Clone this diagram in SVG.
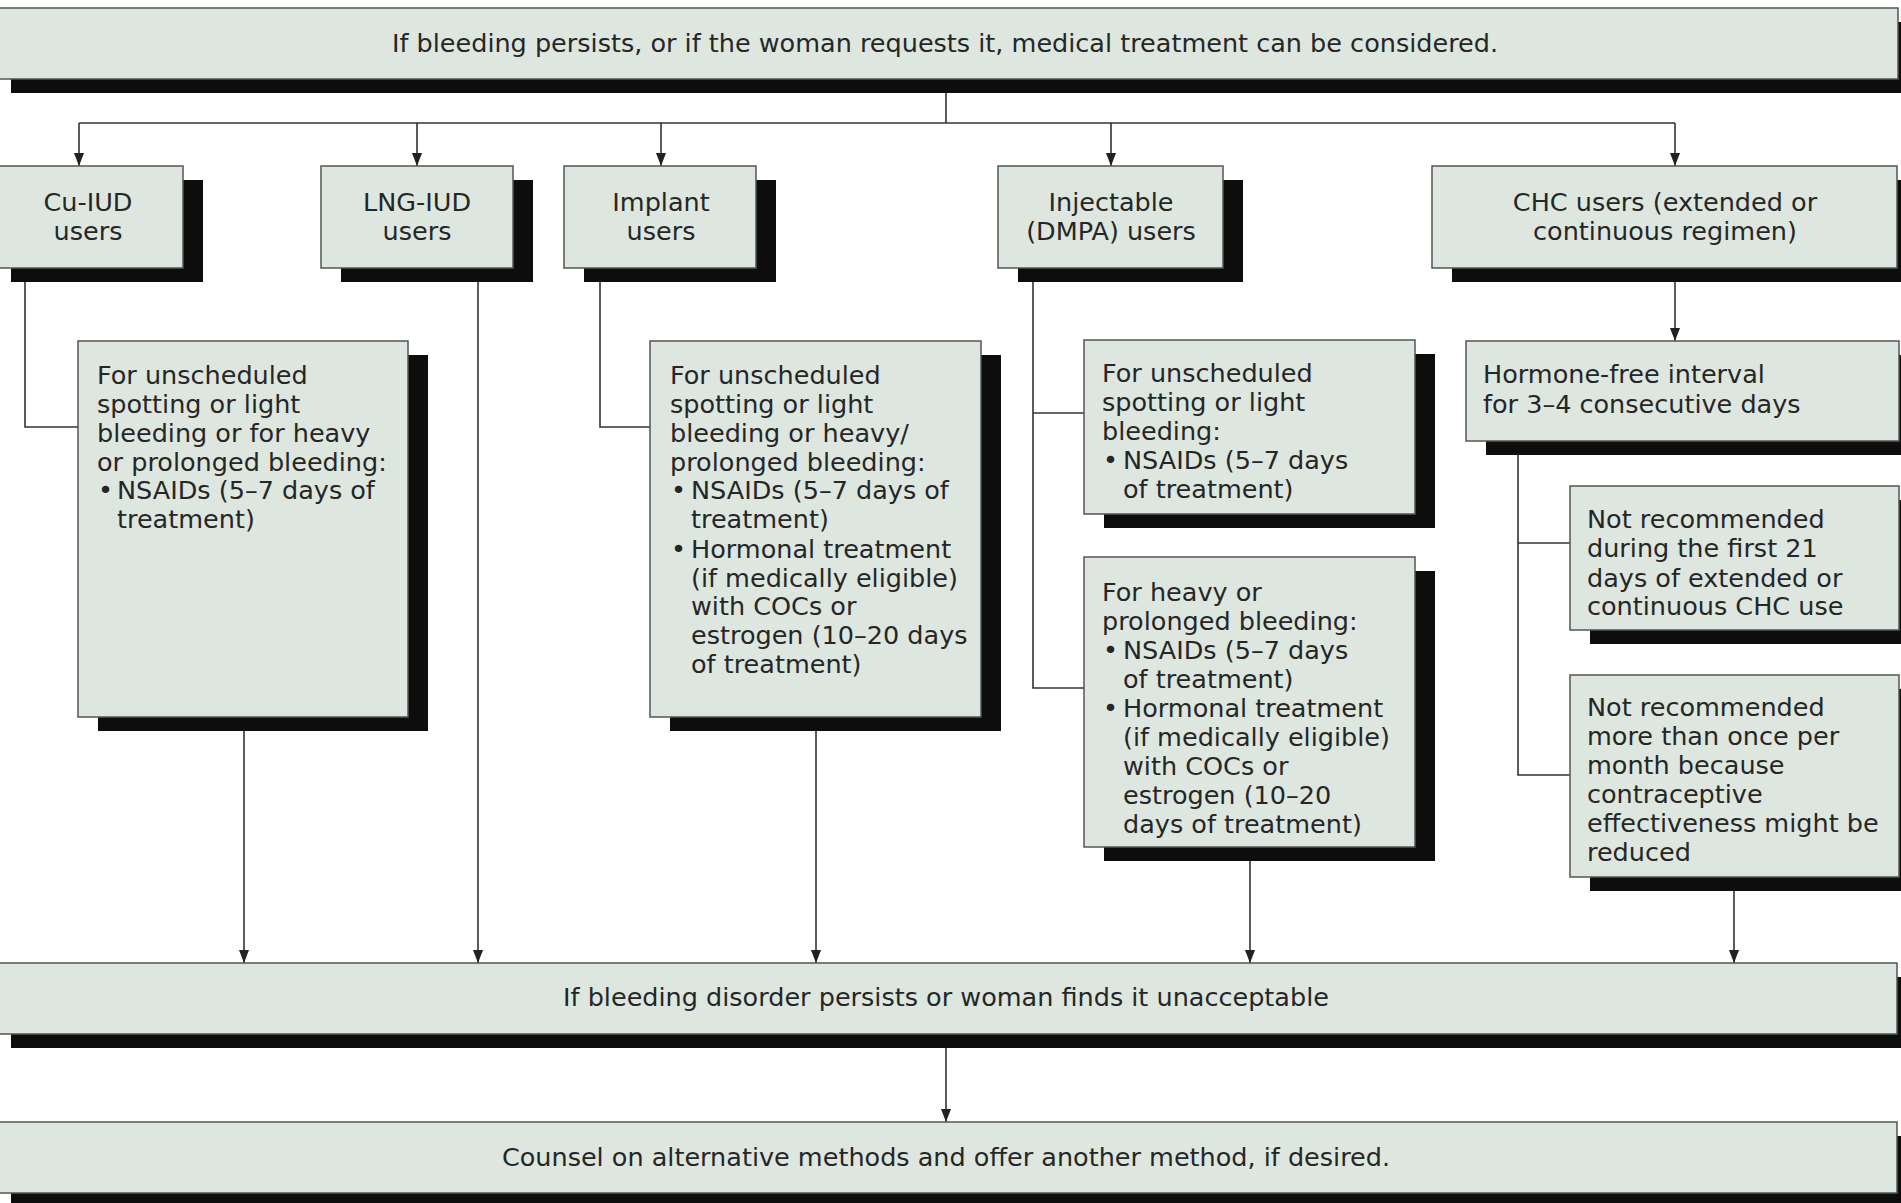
<svg xmlns="http://www.w3.org/2000/svg" width="1901" height="1203" viewBox="0 0 1901 1203">
<style>
.bx{fill:#dde7df;stroke:#555;stroke-width:1.5}
.sh{fill:#0d0d0d}
.t{font-family:"DejaVu Sans","Liberation Sans",sans-serif;font-size:25.5px;fill:#262626}
.c{text-anchor:middle}
.ln{fill:none;stroke:#333;stroke-width:1.6}
</style>
<defs>
<marker id="ah" markerUnits="userSpaceOnUse" markerWidth="10" markerHeight="14" refX="5" refY="13" orient="0" viewBox="0 0 10 14">
<path d="M0,0 L10,0 L5,13 z" fill="#222"/>
</marker>
</defs>
<rect x="0" y="0" width="1901" height="1203" fill="#ffffff"/>

<g id="connectors">
<path class="ln" d="M946,79 V123"/>
<path class="ln" d="M79,123 H1675"/>
<path class="ln" d="M79,123 V166" marker-end="url(#ah)"/>
<path class="ln" d="M417,123 V166" marker-end="url(#ah)"/>
<path class="ln" d="M661,123 V166" marker-end="url(#ah)"/>
<path class="ln" d="M1111,123 V166" marker-end="url(#ah)"/>
<path class="ln" d="M1675,123 V166" marker-end="url(#ah)"/>
<path class="ln" d="M25,282 V427 H78"/>
<path class="ln" d="M478,282 V963" marker-end="url(#ah)"/>
<path class="ln" d="M600,282 V427 H650"/>
<path class="ln" d="M244,730 V963" marker-end="url(#ah)"/>
<path class="ln" d="M816,730 V963" marker-end="url(#ah)"/>
<path class="ln" d="M1033,282 V688 H1084"/>
<path class="ln" d="M1033,413 H1084"/>
<path class="ln" d="M1250,861 V963" marker-end="url(#ah)"/>
<path class="ln" d="M1675,282 V341" marker-end="url(#ah)"/>
<path class="ln" d="M1518,455 V775 H1570"/>
<path class="ln" d="M1518,543 H1570"/>
<path class="ln" d="M1734,891 V963" marker-end="url(#ah)"/>
<path class="ln" d="M946,1048 V1122" marker-end="url(#ah)"/>
</g>

<g id="top">
<rect class="sh" x="11" y="22" width="1920" height="71"/>
<rect class="bx" x="-9" y="8" width="1907" height="71"/>
<text class="t c" x="945" y="52">If bleeding persists, or if the woman requests it, medical treatment can be considered.</text>
</g>

<g id="cuiud">
<rect class="sh" x="11" y="180" width="192" height="102"/>
<rect class="bx" x="-9" y="166" width="192" height="102"/>
<text class="t c" x="88" y="211">Cu-IUD</text>
<text class="t c" x="88" y="240">users</text>
</g>

<g id="lngiud">
<rect class="sh" x="341" y="180" width="192" height="102"/>
<rect class="bx" x="321" y="166" width="192" height="102"/>
<text class="t c" x="417" y="211">LNG-IUD</text>
<text class="t c" x="417" y="240">users</text>
</g>

<g id="implant">
<rect class="sh" x="584" y="180" width="192" height="102"/>
<rect class="bx" x="564" y="166" width="192" height="102"/>
<text class="t c" x="661" y="211">Implant</text>
<text class="t c" x="661" y="240">users</text>
</g>

<g id="injectable">
<rect class="sh" x="1018" y="180" width="225" height="102"/>
<rect class="bx" x="998" y="166" width="225" height="102"/>
<text class="t c" x="1111" y="211">Injectable</text>
<text class="t c" x="1111" y="240">(DMPA) users</text>
</g>

<g id="chc">
<rect class="sh" x="1452" y="180" width="470" height="102"/>
<rect class="bx" x="1432" y="166" width="465" height="102"/>
<text class="t c" x="1665" y="211">CHC users (extended or</text>
<text class="t c" x="1665" y="240">continuous regimen)</text>
</g>

<g id="cu-treatment">
<rect class="sh" x="98" y="355" width="330" height="376"/>
<rect class="bx" x="78" y="341" width="330" height="376"/>
<text class="t" x="97" y="384">For unscheduled</text>
<text class="t" x="97" y="413">spotting or light</text>
<text class="t" x="97" y="442">bleeding or for heavy</text>
<text class="t" x="97" y="471">or prolonged bleeding:</text>
<text class="t" x="98" y="499">•</text>
<text class="t" x="117" y="499">NSAIDs (5–7 days of</text>
<text class="t" x="117" y="528">treatment)</text>
</g>

<g id="implant-treatment">
<rect class="sh" x="670" y="355" width="331" height="376"/>
<rect class="bx" x="650" y="341" width="331" height="376"/>
<text class="t" x="670" y="384">For unscheduled</text>
<text class="t" x="670" y="413">spotting or light</text>
<text class="t" x="670" y="442">bleeding or heavy/</text>
<text class="t" x="670" y="471">prolonged bleeding:</text>
<text class="t" x="671" y="499">•</text>
<text class="t" x="691" y="499">NSAIDs (5–7 days of</text>
<text class="t" x="691" y="528">treatment)</text>
<text class="t" x="671" y="558">•</text>
<text class="t" x="691" y="558">Hormonal treatment</text>
<text class="t" x="691" y="587">(if medically eligible)</text>
<text class="t" x="691" y="615">with COCs or</text>
<text class="t" x="691" y="644">estrogen (10–20 days</text>
<text class="t" x="691" y="673">of treatment)</text>
</g>

<g id="dmpa-light">
<rect class="sh" x="1104" y="354" width="331" height="174"/>
<rect class="bx" x="1084" y="340" width="331" height="174"/>
<text class="t" x="1102" y="382">For unscheduled</text>
<text class="t" x="1102" y="411">spotting or light</text>
<text class="t" x="1102" y="440">bleeding:</text>
<text class="t" x="1103" y="469">•</text>
<text class="t" x="1123" y="469">NSAIDs (5–7 days</text>
<text class="t" x="1123" y="498">of treatment)</text>
</g>

<g id="dmpa-heavy">
<rect class="sh" x="1104" y="571" width="331" height="290"/>
<rect class="bx" x="1084" y="557" width="331" height="290"/>
<text class="t" x="1102" y="601">For heavy or</text>
<text class="t" x="1102" y="630">prolonged bleeding:</text>
<text class="t" x="1103" y="659">•</text>
<text class="t" x="1123" y="659">NSAIDs (5–7 days</text>
<text class="t" x="1123" y="688">of treatment)</text>
<text class="t" x="1103" y="717">•</text>
<text class="t" x="1123" y="717">Hormonal treatment</text>
<text class="t" x="1123" y="746">(if medically eligible)</text>
<text class="t" x="1123" y="775">with COCs or</text>
<text class="t" x="1123" y="804">estrogen (10–20</text>
<text class="t" x="1123" y="833">days of treatment)</text>
</g>

<g id="hormone-free">
<rect class="sh" x="1486" y="355" width="433" height="100"/>
<rect class="bx" x="1466" y="341" width="433" height="100"/>
<text class="t" x="1483" y="383">Hormone-free interval</text>
<text class="t" x="1483" y="413">for 3–4 consecutive days</text>
</g>

<g id="not-rec-1">
<rect class="sh" x="1590" y="500" width="329" height="144"/>
<rect class="bx" x="1570" y="486" width="329" height="144"/>
<text class="t" x="1587" y="528">Not recommended</text>
<text class="t" x="1587" y="557">during the first 21</text>
<text class="t" x="1587" y="587">days of extended or</text>
<text class="t" x="1587" y="615">continuous CHC use</text>
</g>

<g id="not-rec-2">
<rect class="sh" x="1590" y="689" width="329" height="202"/>
<rect class="bx" x="1570" y="675" width="329" height="202"/>
<text class="t" x="1587" y="716">Not recommended</text>
<text class="t" x="1587" y="745">more than once per</text>
<text class="t" x="1587" y="774">month because</text>
<text class="t" x="1587" y="803">contraceptive</text>
<text class="t" x="1587" y="832">effectiveness might be</text>
<text class="t" x="1587" y="861">reduced</text>
</g>

<g id="persists">
<rect class="sh" x="11" y="977" width="1920" height="71"/>
<rect class="bx" x="-9" y="963" width="1906" height="71"/>
<text class="t c" x="946" y="1006">If bleeding disorder persists or woman finds it unacceptable</text>
</g>

<g id="counsel">
<rect class="sh" x="11" y="1136" width="1920" height="71"/>
<rect class="bx" x="-9" y="1122" width="1906" height="71"/>
<text class="t c" x="946" y="1166">Counsel on alternative methods and offer another method, if desired.</text>
</g>
</svg>
